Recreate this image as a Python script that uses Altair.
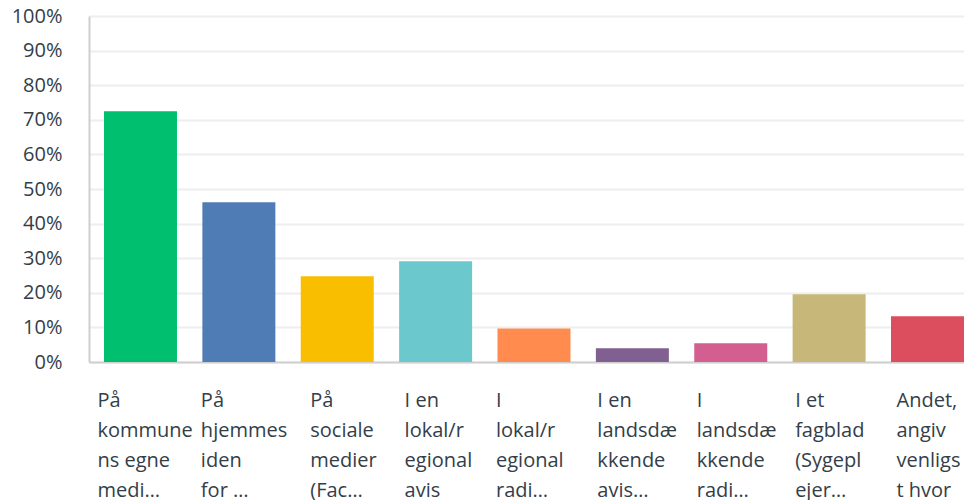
import altair as alt
import pandas as pd

categories = [
    "På|kommune|ns egne|medi…",
    "På|hjemmes|iden|for …",
    "På|sociale|medier|(Fac…",
    "I en|lokal/r|egional|avis",
    "I|lokal/r|egional|radi…",
    "I en|landsdæ|kkende|avis…",
    "I|landsdæ|kkende|radi…",
    "I et|fagblad|(Sygepl|ejer…",
    "Andet,|angiv|venligs|t hvor",
]
values = [72.5, 46.2, 24.8, 29.1, 9.7, 4.0, 5.4, 19.6, 13.2]
colors = ["#00bf6f", "#507cb6", "#f9be00", "#6bc8cd", "#ff8b4f",
          "#7f6091", "#d25f90", "#c7b879", "#dc4e5e"]
y_ticks = [0, 10, 20, 30, 40, 50, 60, 70, 80, 90, 100]

# per-label horizontal shift of the left-aligned label block (style only)
label_shift = [-43, -38, -27, -31, -38, -35, -34, -34, -31]

df = pd.DataFrame({"cat": categories, "value": values, "color": colors})

FONT = "Open Sans"

cat_list = "[" + ",".join("'" + c + "'" for c in categories) + "]"
shift_list = "[" + ",".join(str(s) for s in label_shift) + "]"
offset_expr = f"{shift_list}[indexof({cat_list}, datum.value)]"

chart = alt.Chart(df).mark_bar().encode(
    x=alt.X("cat:N", sort=categories, title=None,
            scale=alt.Scale(paddingInner=0.258, paddingOuter=0.0762, align=1),
            axis=alt.Axis(labelExpr="split(datum.label, '|')", labelAngle=0,
                          labelAlign="left",
                          labelOffset={"condition": {"test": "true", "expr": offset_expr},
                                       "value": -36},
                          labelBaseline="top",
                          labelPadding=28, labelLineHeight=30, labelLimit=500,
                          labelFont=FONT, labelFontSize=20, labelColor="#333e48",
                          ticks=False, domainColor="#cfcfcf", domainWidth=2,
                          grid=False)),
    y=alt.Y("value:Q", title=None,
            scale=alt.Scale(domain=[0, 100], nice=False),
            axis=alt.Axis(values=y_ticks, labelExpr="datum.value + '%'",
                          labelFont=FONT, labelFontSize=20, labelColor="#333e48",
                          labelPadding=27, ticks=False, domainColor="#cfcfcf",
                          domainWidth=2, gridColor="#eeeeee", gridWidth=2)),
    color=alt.Color("color:N", scale=None, legend=None),
).properties(
    width=875, height=346,
    autosize=alt.AutoSizeParams(type="none"),
    padding={"left": 81, "top": 8, "right": 0, "bottom": 150},
).configure_view(stroke=None)

chart.save("out.html", embed_options={"renderer": "svg", "actions": False})
